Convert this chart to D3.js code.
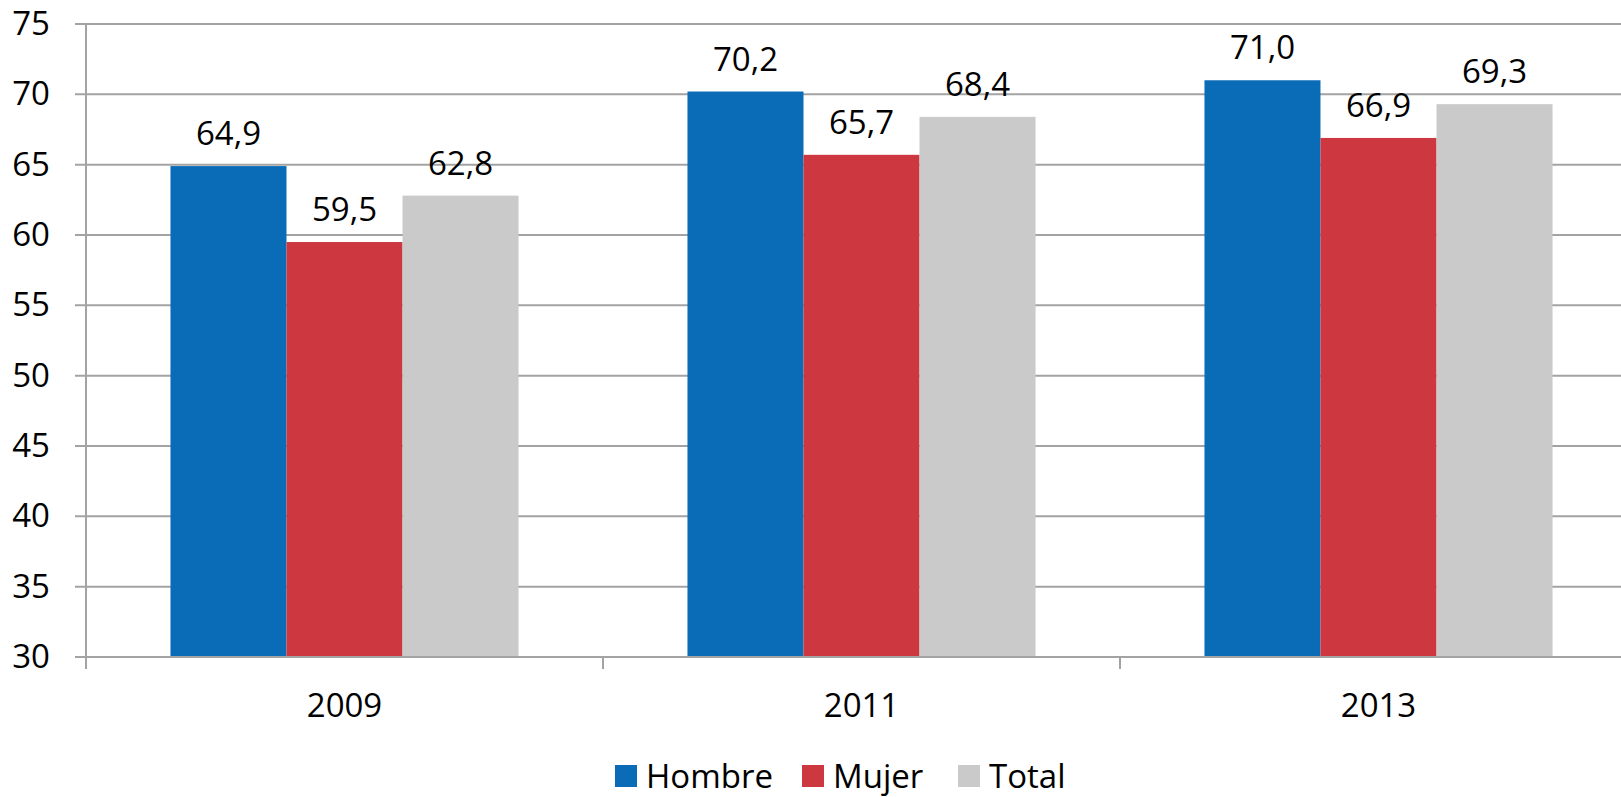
<!DOCTYPE html>
<html>
<head>
<meta charset="utf-8">
<script src="https://cdn.jsdelivr.net/npm/d3@7"></script>
<style>
  body { margin: 0; background: #fff; }
  svg text { font-family: "Open Sans", sans-serif; font-size: 33px; fill: #000; }
</style>
</head>
<body>
<svg id="chart" width="1621" height="797"></svg>
<script>
var years = ['2009', '2011', '2013'];
var seriesNames = ['Hombre', 'Mujer', 'Total'];
var hombre = [64.9, 70.2, 71.0];
var mujer = [59.5, 65.7, 66.9];
var total = [62.8, 68.4, 69.3];
var yTicks = [30, 35, 40, 45, 50, 55, 60, 65, 70, 75];
var colors = ['#0a6cb6', '#cc3740', '#cacaca'];

var values = [hombre, mujer, total];

var margin = { left: 86, top: 24 };
var plotW = 1551, plotH = 633;

var svg = d3.select('#chart');
var g = svg.append('g').attr('transform', 'translate(' + margin.left + ',' + margin.top + ')');

var x = d3.scaleBand().domain(years).range([0, plotW]).paddingInner(0).paddingOuter(0);
var xs = d3.scaleBand().domain(seriesNames).range([0, x.bandwidth()]).paddingInner(0).paddingOuter(0.728);
var y = d3.scaleLinear().domain([30, 75]).range([plotH, 0]);

// gridlines
g.append('g').selectAll('line')
  .data(yTicks)
  .enter().append('line')
  .attr('x1', -11).attr('x2', plotW)
  .attr('y1', function(d) { return y(d); })
  .attr('y2', function(d) { return y(d); })
  .attr('stroke', '#a3a3a3')
  .attr('stroke-width', 2);

// y axis labels
var yAxis = g.append('g')
  .call(d3.axisLeft(y).tickValues(yTicks).tickSize(11).tickPadding(25));
yAxis.select('.domain').remove();
yAxis.selectAll('line').remove();
yAxis.selectAll('text').style('font-size', '33px').attr('fill', '#000');

// y axis line
g.append('line')
  .attr('x1', 0).attr('x2', 0)
  .attr('y1', 0).attr('y2', plotH + 12)
  .attr('stroke', '#a3a3a3').attr('stroke-width', 2);

// bars
years.forEach(function(yr, i) {
  seriesNames.forEach(function(s, j) {
    var v = values[j][i];
    g.append('rect')
      .attr('x', x(yr) + xs(s))
      .attr('y', y(v))
      .attr('width', xs.bandwidth())
      .attr('height', plotH - y(v))
      .attr('fill', colors[j]);

    g.append('text')
      .attr('x', x(yr) + xs(s) + xs.bandwidth() / 2)
      .attr('y', y(v) - 21)
      .attr('text-anchor', 'middle')
      .text(v.toFixed(1).replace('.', ','));
  });
});

// x axis line and boundary ticks
g.append('line')
  .attr('x1', 0).attr('x2', plotW)
  .attr('y1', plotH).attr('y2', plotH)
  .attr('stroke', '#a3a3a3').attr('stroke-width', 2);

var bounds = years.map(function(d) { return x(d); }).concat([plotW]);
g.append('g').selectAll('line')
  .data(bounds)
  .enter().append('line')
  .attr('x1', function(d) { return d; })
  .attr('x2', function(d) { return d; })
  .attr('y1', plotH).attr('y2', plotH + 12)
  .attr('stroke', '#a3a3a3').attr('stroke-width', 2);

var xAxis = g.append('g')
  .attr('transform', 'translate(0,' + plotH + ')')
  .call(d3.axisBottom(x).tickSize(0).tickPadding(37));
xAxis.select('.domain').remove();
xAxis.selectAll('text').style('font-size', '33px').attr('fill', '#000');

// legend
var legendX = [615, 802, 958];
var legend = svg.append('g');
seriesNames.forEach(function(s, j) {
  legend.append('rect')
    .attr('x', legendX[j]).attr('y', 765)
    .attr('width', 22).attr('height', 22)
    .attr('fill', colors[j]);
  legend.append('text')
    .attr('x', legendX[j] + 31)
    .attr('y', 788)
    .text(s);
});
</script>
</body>
</html>
